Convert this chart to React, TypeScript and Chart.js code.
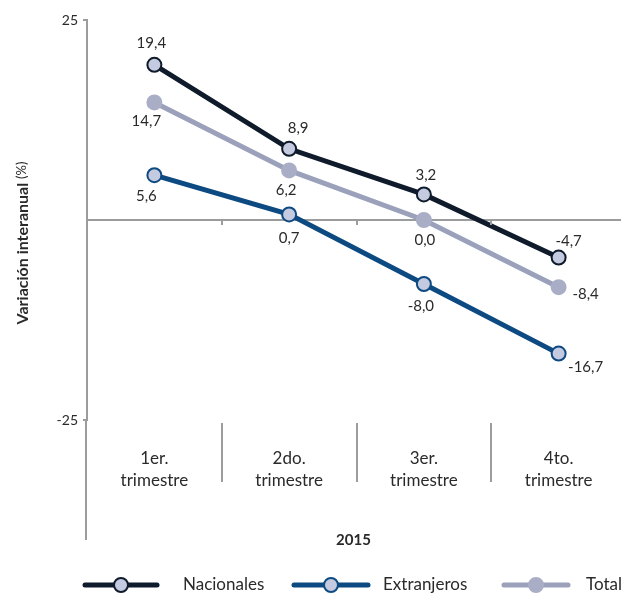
import React, { useEffect, useRef } from 'react';
import { Chart, registerables } from 'chart.js';

Chart.register(...registerables);

// ---- data ----
const categories: string[][] = [
  ['1er.', 'trimestre'],
  ['2do.', 'trimestre'],
  ['3er.', 'trimestre'],
  ['4to.', 'trimestre'],
];
const seriesNames = ['Nacionales', 'Extranjeros', 'Total'];
const nacionales = [19.4, 8.9, 3.2, -4.7];
const extranjeros = [5.6, 0.7, -8.0, -16.7];
const total = [14.7, 6.2, 0.0, -8.4];
const yMin = -25;
const yMax = 25;
const yStep = 25;
const xAxisTitle = '2015';
const yAxisTitle = 'Variación interanual';
const yAxisUnit = '(%)';

// ---- styling (kept apart from the data) ----
const FONT = 'Lato, "Open Sans", sans-serif';
const TEXT = '#2a2a2a';
const AXIS = '#9a9c9e';
const lineColors = ['#0f1b2b', '#0d4a82', '#9ba1bb'];
const markerFills = ['#c4cadf', '#c4cadf', '#a9aec6'];
const markerBorders = ['#0f1b2b', '#0d4a82', '#a9aec6'];
// data-label offsets (dx, dy) from each point
const labelOffsets: number[][][] = [
  [[-3, -22], [9, -21], [2, -19], [10, -16]],
  [[-8, 21], [0, 24], [-3, 22], [27, 14]],
  [[-8, 19], [-3, 20], [1, 20], [27, 7]],
];
const legendLineStart = [83, 292, 502];
const legendLineEnd = [159, 370, 570];
const legendTextX = [183, 383, 586];

const fmt = (v: number) => v.toFixed(1).replace('.', ',');

const decorPlugin = {
  id: 'decor',
  afterDraw(chart: any) {
    const { ctx, chartArea: a, scales } = chart;
    const xs = scales.x;
    const ys = scales.y;
    ctx.save();
    // y axis extension below the plot
    ctx.strokeStyle = AXIS;
    ctx.lineWidth = 2;
    ctx.beginPath();
    ctx.moveTo(a.left - 1, a.bottom);
    ctx.lineTo(a.left - 1, 540);
    ctx.stroke();
    // category separators and little ticks on the zero line
    const y0 = ys.getPixelForValue(0);
    for (let i = 1; i < categories.length; i++) {
      const px = Math.round((xs.getPixelForValue(i - 1) + xs.getPixelForValue(i)) / 2);
      ctx.beginPath();
      ctx.moveTo(px, 423);
      ctx.lineTo(px, 482);
      ctx.stroke();
      ctx.beginPath();
      ctx.moveTo(px, y0);
      ctx.lineTo(px, y0 + 5);
      ctx.stroke();
    }
    // x title
    ctx.fillStyle = TEXT;
    ctx.font = `bold 15px ${FONT}`;
    ctx.textAlign = 'center';
    ctx.textBaseline = 'middle';
    ctx.fillText(xAxisTitle, (a.left + a.right) / 2 - 3, 540);
    // y title (rotated)
    ctx.save();
    ctx.translate(23, 243);
    ctx.rotate(-Math.PI / 2);
    ctx.font = `bold 16px ${FONT}`;
    const w1 = ctx.measureText(yAxisTitle + ' ').width;
    ctx.font = `13px ${FONT}`;
    const w2 = ctx.measureText(yAxisUnit).width;
    const start = -(w1 + w2) / 2;
    ctx.textAlign = 'left';
    ctx.font = `bold 16px ${FONT}`;
    ctx.fillText(yAxisTitle + ' ', start, 0);
    ctx.font = `13px ${FONT}`;
    ctx.fillText(yAxisUnit, start + w1, -1);
    ctx.restore();
    // legend
    const ly = 585;
    chart.data.datasets.forEach((ds: any, i: number) => {
      const x0 = legendLineStart[i];
      const x1 = legendLineEnd[i];
      ctx.strokeStyle = ds.borderColor;
      ctx.lineWidth = 5;
      ctx.lineCap = 'round';
      ctx.beginPath();
      ctx.moveTo(x0 + 2, ly);
      ctx.lineTo(x1 - 2, ly);
      ctx.stroke();
      ctx.beginPath();
      ctx.arc((x0 + x1) / 2, ly, 7, 0, Math.PI * 2);
      ctx.fillStyle = ds.pointBackgroundColor;
      ctx.fill();
      ctx.lineWidth = 2;
      ctx.strokeStyle = ds.pointBorderColor;
      ctx.stroke();
      ctx.fillStyle = TEXT;
      ctx.font = `17px ${FONT}`;
      ctx.textAlign = 'left';
      ctx.textBaseline = 'middle';
      ctx.fillText(ds.label, legendTextX[i], ly);
    });
    ctx.restore();
  },
  afterDatasetsDraw(chart: any) {
    const { ctx } = chart;
    ctx.save();
    ctx.fillStyle = TEXT;
    ctx.font = `15px ${FONT}`;
    ctx.textAlign = 'center';
    ctx.textBaseline = 'middle';
    chart.data.datasets.forEach((ds: any, di: number) => {
      const meta = chart.getDatasetMeta(di);
      meta.data.forEach((pt: any, i: number) => {
        const off = labelOffsets[di][i];
        ctx.fillText(fmt(ds.data[i]), pt.x + off[0], pt.y + off[1]);
      });
    });
    ctx.restore();
  },
};

export default function App() {
  const ref = useRef<HTMLCanvasElement | null>(null);
  useEffect(() => {
    if (!ref.current) return;
    const series = [nacionales, extranjeros, total];
    const chart = new Chart(ref.current, {
      type: 'line',
      data: {
        labels: categories,
        datasets: series.map((d, i) => ({
          label: seriesNames[i],
          data: d,
          borderColor: lineColors[i],
          backgroundColor: lineColors[i],
          borderWidth: 5,
          pointRadius: 7,
          pointHoverRadius: 7,
          pointBorderWidth: 2,
          pointBackgroundColor: markerFills[i],
          pointBorderColor: markerBorders[i],
          tension: 0,
          fill: false,
        })),
      },
      options: {
        responsive: false,
        animation: false,
        devicePixelRatio: 1,
        layout: { padding: { top: 20, left: 0, right: 0, bottom: 0 } },
        plugins: { legend: { display: false }, tooltip: { enabled: false } },
        scales: {
          x: {
            type: 'category',
            offset: true,
            grid: { display: false, drawTicks: false },
            border: { display: false },
            ticks: {
              color: TEXT,
              font: { family: FONT, size: 17, lineHeight: 1.3 },
              padding: 27,
              maxRotation: 0,
              autoSkip: false,
            },
            afterFit: (s: any) => {
              s.height = 177;
              s.paddingLeft = 0;
              s.paddingRight = 0;
            },
          },
          y: {
            min: yMin,
            max: yMax,
            ticks: {
              stepSize: yStep,
              color: TEXT,
              font: { family: FONT, size: 14 },
              padding: 5,
              callback: (v: any) => (v === 0 ? '' : String(v)),
            },
            grid: {
              lineWidth: 2,
              tickLength: 4,
              color: (c: any) => (c.tick && c.tick.value === 0 ? AXIS : 'rgba(0,0,0,0)'),
              tickColor: (c: any) => (c.tick && c.tick.value === 0 ? 'rgba(0,0,0,0)' : AXIS),
            },
            border: { display: true, color: AXIS, width: 2 },
            afterFit: (s: any) => {
              s.width = 87;
            },
          },
        },
      },
      plugins: [decorPlugin],
    } as any);
    return () => chart.destroy();
  }, []);
  return (
    <div style={{ position: 'absolute', left: 0, top: 0, width: 621, height: 597, overflow: 'hidden', background: '#fff' }}>
      <canvas ref={ref} width={635} height={597} style={{ width: 635, height: 597, display: 'block' }} />
    </div>
  );
}
